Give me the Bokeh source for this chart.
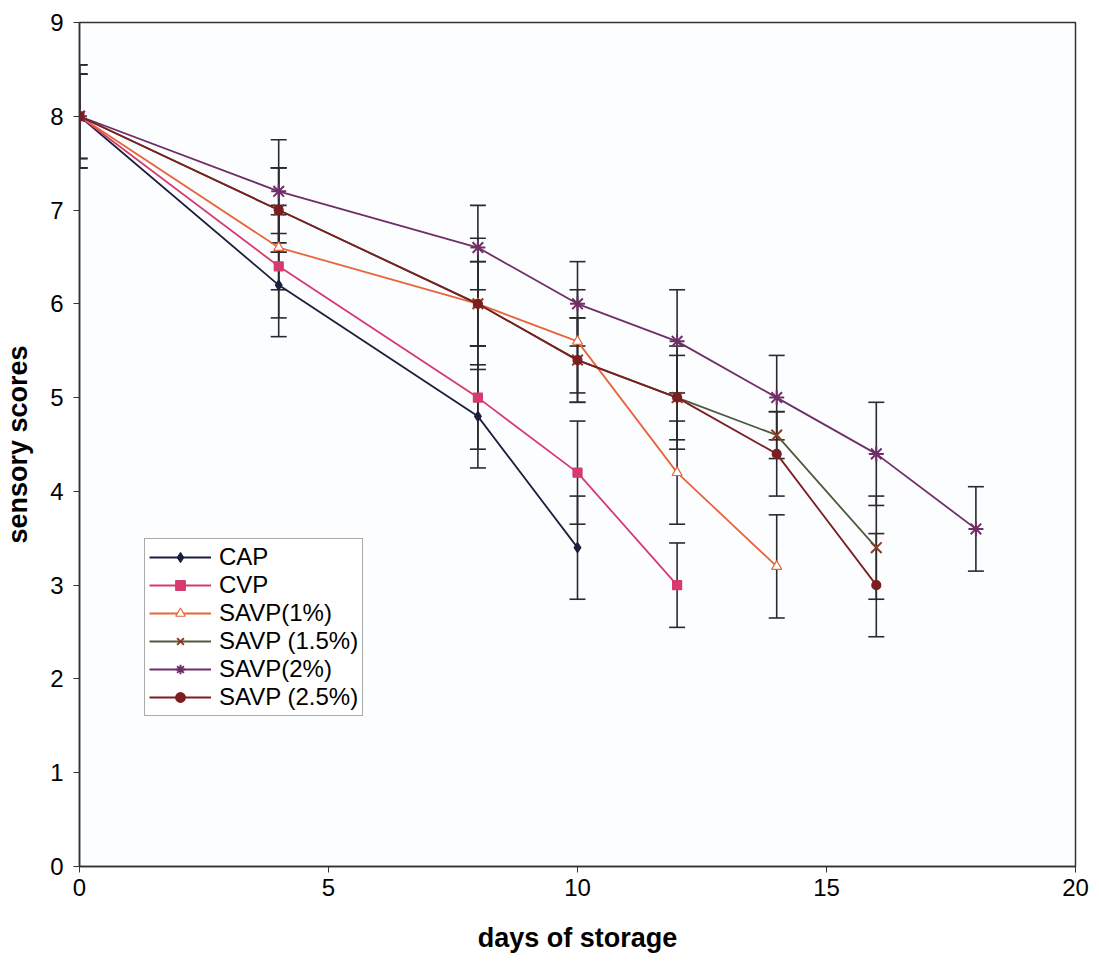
from bokeh.plotting import figure
from bokeh.models import Range1d, FixedTicker, Whisker, TeeHead, ColumnDataSource, Legend, LegendItem
from bokeh.embed import file_html
from bokeh.resources import INLINE

# ---- data ----
series_names = ["CAP", "CVP", "SAVP(1%)", "SAVP (1.5%)", "SAVP(2%)", "SAVP (2.5%)"]
days_cap = [0, 4, 8, 10]
scores_cap = [8.0, 6.2, 4.8, 3.4]
err_cap = [0.55, 0.55, 0.55, 0.55]

days_cvp = [0, 4, 8, 10, 12]
scores_cvp = [8.0, 6.4, 5.0, 4.2, 3.0]
err_cvp = [0.45, 0.55, 0.55, 0.55, 0.45]

days_savp1 = [0, 4, 8, 10, 12, 14]
scores_savp1 = [8.0, 6.6, 6.0, 5.6, 4.2, 3.2]
err_savp1 = [0.55, 0.45, 0.45, 0.55, 0.55, 0.55]

days_savp15 = [0, 4, 8, 10, 12, 14, 16]
scores_savp15 = [8.0, 7.0, 6.0, 5.4, 5.0, 4.6, 3.4]
err_savp15 = [0.45, 0.45, 0.7, 0.45, 0.45, 0.25, 0.55]

days_savp2 = [0, 4, 8, 10, 12, 14, 16, 18]
scores_savp2 = [8.0, 7.2, 6.6, 6.0, 5.6, 5.0, 4.4, 3.6]
err_savp2 = [0.55, 0.55, 0.45, 0.45, 0.55, 0.45, 0.55, 0.45]

days_savp25 = [0, 4, 8, 10, 12, 14, 16]
scores_savp25 = [8.0, 7.0, 6.0, 5.4, 5.0, 4.4, 3.0]
err_savp25 = [0.45, 0.45, 0.45, 0.45, 0.55, 0.45, 0.55]

x_ticks = [0, 5, 10, 15, 20]
y_ticks = [0, 1, 2, 3, 4, 5, 6, 7, 8, 9]

FONT = "Liberation Sans"

p = figure(width=1099, height=962, output_backend="svg", toolbar_location=None,
           x_range=Range1d(0, 20), y_range=Range1d(0, 9),
           min_border_left=78, min_border_right=24, min_border_top=22, min_border_bottom=96)

p.background_fill_color = "#fcfdff"
p.border_fill_color = "white"
p.outline_line_color = "#333333"
p.outline_line_width = 1.5
p.grid.visible = False

p.xaxis.ticker = FixedTicker(ticks=x_ticks)
p.yaxis.ticker = FixedTicker(ticks=y_ticks)
for ax in (p.xaxis[0], p.yaxis[0]):
    ax.major_label_text_font = FONT
    ax.major_label_text_font_size = "24px"
    ax.major_label_text_color = "black"
    ax.axis_label_text_font = FONT
    ax.axis_label_text_font_size = "27px"
    ax.axis_label_text_font_style = "bold"
    ax.axis_label_text_color = "black"
    ax.axis_line_color = "#333333"
    ax.axis_line_width = 1.5
    ax.major_tick_line_color = "#333333"
    ax.major_tick_in = 0
    ax.major_tick_out = 6
    ax.minor_tick_line_color = None
p.xaxis.axis_label = "days of storage"
p.yaxis.axis_label = "sensory scores"
p.xaxis.major_label_standoff = 6
p.xaxis.axis_label_standoff = 24
p.yaxis.major_label_standoff = 10
p.yaxis.axis_label_standoff = 14

specs = [
    (days_cap, scores_cap, err_cap, "#1c1f3c", "diamond", 10, "#1c1f3c"),
    (days_cvp, scores_cvp, err_cvp, "#d63a6e", "square", 9, "#d63a6e"),
    (days_savp1, scores_savp1, err_savp1, "#e8643a", "triangle", 10, "white"),
    (days_savp15, scores_savp15, err_savp15, "#4e5a3c", "x", 15, None),
    (days_savp2, scores_savp2, err_savp2, "#6e2f66", "asterisk", 15, None),
    (days_savp25, scores_savp25, err_savp25, "#7a1e22", "circle", 9, "#7a1e22"),
]
marker_line = ["#1c1f3c", "#d63a6e", "#e8643a", "#8a3a24", "#6e2f66", "#7a1e22"]

# error bars
for (xs, ys, es, col, mk, sz, fill) in specs:
    src = ColumnDataSource(dict(x=xs, upper=[y + e for y, e in zip(ys, es)],
                                lower=[y - e for y, e in zip(ys, es)]))
    w = Whisker(base="x", upper="upper", lower="lower", source=src,
                line_color="#2a2a2a", line_width=1.6,
                upper_head=TeeHead(size=16, line_color="#2a2a2a", line_width=1.6),
                lower_head=TeeHead(size=16, line_color="#2a2a2a", line_width=1.6))
    p.add_layout(w)

items = []
for i, (xs, ys, es, col, mk, sz, fill) in enumerate(specs):
    src = ColumnDataSource(dict(x=xs, y=ys))
    ln = p.line("x", "y", source=src, line_color=col, line_width=1.8)
    sc = p.scatter("x", "y", source=src, marker=mk, size=sz,
                   line_color=marker_line[i], line_width=2 if mk in ("x", "asterisk") else 1.2,
                   fill_color=fill if fill else marker_line[i])
    items.append(LegendItem(label=series_names[i], renderers=[ln, sc]))

legend = Legend(items=items, location=(65, 150))
legend.label_text_font = FONT
legend.label_text_font_size = "24px"
legend.label_text_color = "black"
legend.glyph_width = 62
legend.glyph_height = 24
legend.label_height = 24
legend.spacing = 0
legend.padding = 4
legend.margin = 0
legend.label_standoff = 8
legend.border_line_color = "#555555"
legend.border_line_width = 1.2
legend.background_fill_color = "white"
legend.background_fill_alpha = 1
p.add_layout(legend, "center")

open("out.html", "w").write(file_html(p, INLINE))
